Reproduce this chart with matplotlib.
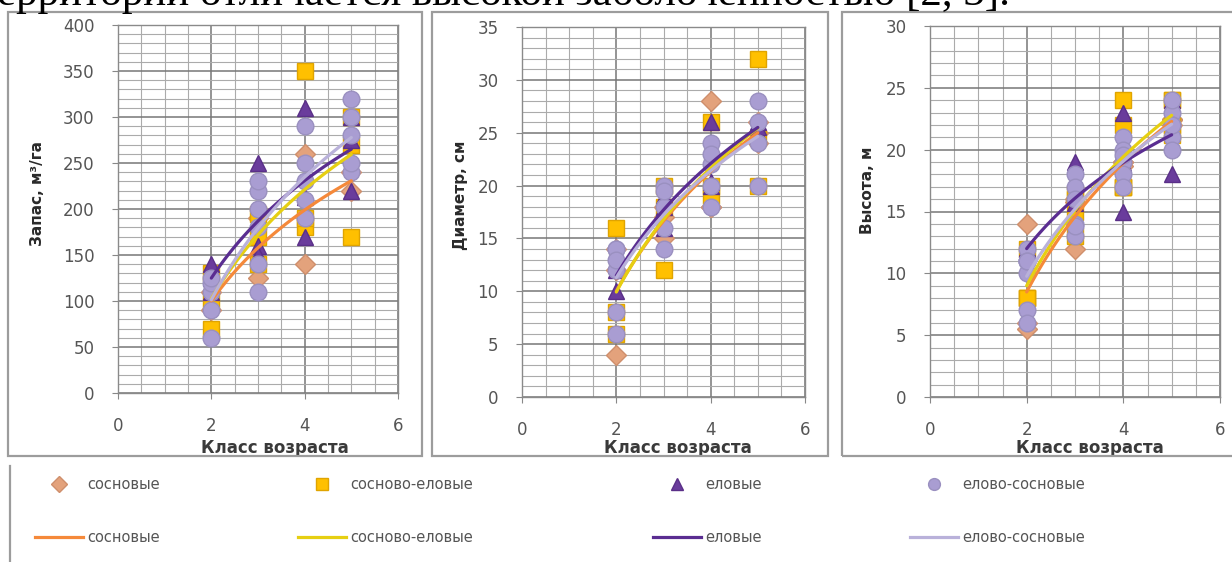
import numpy as np
import matplotlib
matplotlib.use("Agg")
import matplotlib.pyplot as plt
from matplotlib.lines import Line2D
from matplotlib.patches import Rectangle
from matplotlib.ticker import MultipleLocator

plt.rcParams['font.family'] = ['DejaVu Sans']

W, H = 1232, 562

age_classes = [2, 3, 4, 5]
series_names = ["сосновые", "сосново-еловые", "еловые", "елово-сосновые"]

# запас, м3/га по классам возраста (2, 3, 4, 5)
stock_pine = [[90, 110], [125, 190], [140, 260], [220, 240]]
stock_pine_spruce = [[70, 100, 130], [140, 170, 195], [350, 180, 190], [170, 300, 270]]
stock_spruce = [[110, 125, 140], [250, 160, 150], [310, 170, 213], [220, 300, 275]]
stock_spruce_pine = [[60, 90, 110, 120, 125], [110, 140, 180, 200, 220, 230],
                     [190, 210, 230, 250, 290], [240, 250, 280, 300, 320]]

# диаметр, см
diam_pine = [[4, 12, 14], [15, 17, 18], [28, 18, 18], [24, 25, 26]]
diam_pine_spruce = [[16, 8, 6], [12, 20, 18], [26, 20, 19], [32, 20, 24.5]]
diam_spruce = [[10, 12, 12.5], [16, 18, 19], [26, 20, 20.3], [26, 25, 25.5]]
diam_spruce_pine = [[6, 8, 12, 14, 14, 13], [14, 16, 18, 20, 19.5],
                    [18, 20, 22, 24, 23], [20, 24, 28, 26]]

# высота, м
height_pine = [[14, 6, 5.5], [12, 16, 15.8], [19, 18.7, 19], [22, 22.5, 22.4]]
height_pine_spruce = [[12, 8, 8, 8], [13, 15, 16, 16.4], [24, 22, 17, 17, 17], [24, 24, 22, 21.2]]
height_spruce = [[12, 12, 12], [19, 13.5, 15.7], [23, 15, 18.9], [24, 18, 21.6]]
height_spruce_pine = [[11, 10, 7, 6, 12, 11, 11], [18, 17, 16, 13, 14, 13.8],
                      [21, 20, 19, 18, 17, 19.6], [23, 22, 21, 20, 24, 22]]

marker_styles = [
    dict(marker="D", ms=10, mfc="#E3A27C", mec="#CF8F6C"),
    dict(marker="s", ms=12, mfc="#FFC000", mec="#E0A400"),
    dict(marker="^", ms=12, mfc="#6A3C9C", mec="#5A2F88"),
    dict(marker="o", ms=12, mfc="#A99DD2", mec="#9A90C0"),
]
line_colors = ["#F5893A", "#E6CF12", "#5A2D91", "#B9B1DA"]


def px_rect(x0, y0, x1, y1):
    return [x0 / W, 1 - y1 / H, (x1 - x0) / W, (y1 - y0) / H]


def draw_panel(ax, groups, ymax, ymajor, yminor, ylabel, xlab_pos, ylab_pos):
    # точки
    for vals, st in zip(groups, marker_styles):
        xs = np.repeat(age_classes, [len(v) for v in vals])
        ys = np.concatenate([np.asarray(v, float) for v in vals])
        ax.plot(xs, ys, ls="none", zorder=3, **st)
    # логарифмические линии тренда
    for vals, col in zip(groups, line_colors):
        xs = np.repeat(age_classes, [len(v) for v in vals])
        ys = np.concatenate([np.asarray(v, float) for v in vals])
        a, b = np.polyfit(np.log(xs), ys, 1)
        xx = np.linspace(min(age_classes), max(age_classes), 60)
        ax.plot(xx, a * np.log(xx) + b, color=col, lw=2.3, zorder=4,
                solid_capstyle="round")

    ax.set_xlim(0, 6)
    ax.set_ylim(0, ymax)
    ax.xaxis.set_major_locator(MultipleLocator(2))
    ax.xaxis.set_minor_locator(MultipleLocator(0.5))
    ax.yaxis.set_major_locator(MultipleLocator(ymajor))
    ax.yaxis.set_minor_locator(MultipleLocator(yminor))
    ax.grid(which="major", color="#777777", lw=1.1)
    ax.grid(which="minor", color="#ABABAB", lw=0.8)
    ax.set_axisbelow(True)
    for s in ax.spines.values():
        s.set_color("#8A8A8A")
        s.set_linewidth(1.0)
    ax.tick_params(which="major", length=4, color="#888888", labelsize=12,
                   labelcolor="#555555")
    ax.tick_params(axis="x", which="major", pad=13)
    ax.tick_params(axis="y", which="major", pad=13)
    ax.tick_params(which="minor", length=0)

    ax.set_xlabel("Класс возраста", fontsize=12, fontweight="bold",
                  color="#3A3A3A", va="center")
    ax.xaxis.set_label_coords(*xlab_pos)
    ax.set_ylabel(ylabel, fontsize=11, fontweight="bold", color="#2A2A2A",
                  va="center")
    ax.yaxis.set_label_coords(*ylab_pos)


fig = plt.figure(figsize=(W / 100, H / 100), dpi=100)

# строка текста над диаграммами
fig.text(-3 / W, 1 - 5 / H, "ерритории отличается высокой заболоченностью [2, 3].",
         family="Liberation Serif", fontsize=31, ha="left", va="baseline", color="black")

# рамки диаграмм
for x0, x1 in [(8, 422), (432, 828), (842, 1250)]:
    r = px_rect(x0, 12, x1, 456)
    fig.patches.append(Rectangle(r[:2], *r[2:], transform=fig.transFigure,
                                 fill=False, ec="#9C9C9C", lw=1.6))
fig.add_artist(Line2D([10 / W, 10 / W], [0, 1 - 466 / H], transform=fig.transFigure,
                      color="#9C9C9C", lw=1.6))

ax1 = fig.add_axes(px_rect(118, 25, 398, 393))
ax2 = fig.add_axes(px_rect(522, 27, 805, 397))
ax3 = fig.add_axes(px_rect(930, 26, 1220, 397))

draw_panel(ax1, [stock_pine, stock_pine_spruce, stock_spruce, stock_spruce_pine],
           400, 50, 10, "Запас, м³/га", (0.56, -0.149), (-0.289, 0.543))
draw_panel(ax2, [diam_pine, diam_pine_spruce, diam_spruce, diam_spruce_pine],
           35, 5, 1, "Диаметр, см", (0.55, -0.138), (-0.219, 0.546))
draw_panel(ax3, [height_pine, height_pine_spruce, height_spruce, height_spruce_pine],
           30, 5, 1, "Высота, м", (0.55, -0.137), (-0.217, 0.558))

# легенда: в каждом столбце маркер и линия тренда
legend_left = [35, 298, 653, 910]
for name, st, col, xl in zip(series_names, marker_styles, line_colors, legend_left):
    mst = dict(st)
    mst["ms"] = 8.5
    h_mark = Line2D([], [], ls="none", **mst)
    h_line = Line2D([], [], color=col, lw=2.3)
    fig.legend([h_mark, h_line], [name, name], loc="center left",
               bbox_to_anchor=(xl / W, 1 - 511 / H), frameon=False,
               fontsize=10.5, labelcolor="#555555", handlelength=3.3,
               handletextpad=0.25, labelspacing=2.6, borderpad=0,
               borderaxespad=0)

fig.savefig("out.png", dpi=100)
